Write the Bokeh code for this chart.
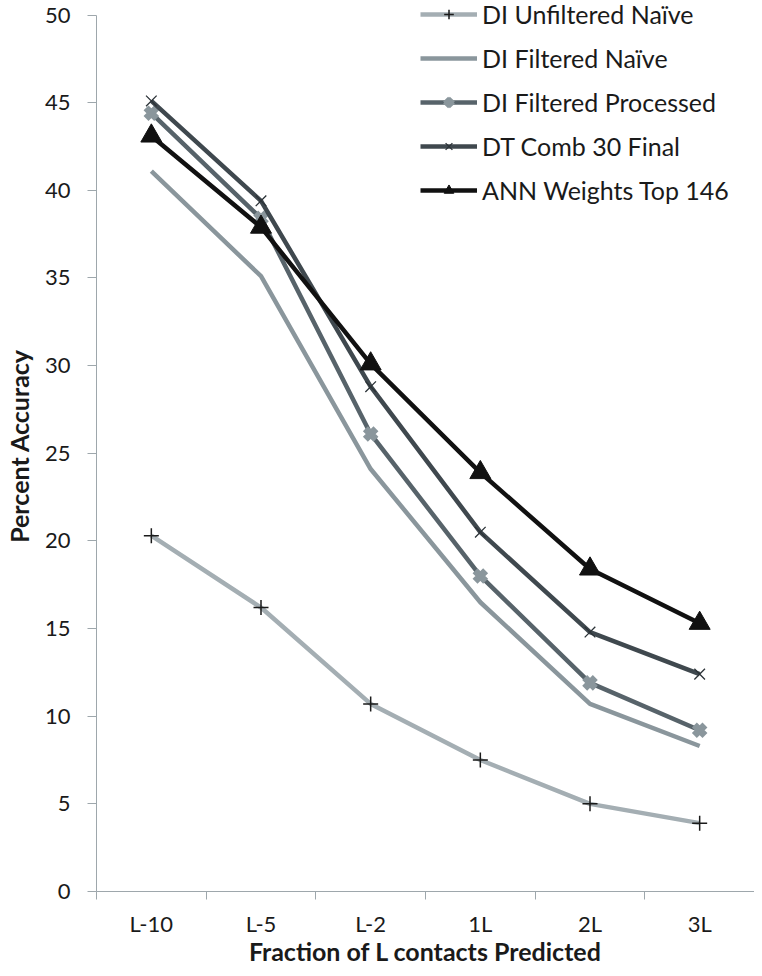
from bokeh.plotting import figure
from bokeh.models import FixedTicker, Legend, Range1d
from bokeh.embed import file_html
from bokeh.resources import INLINE

categories = ["L-10", "L-5", "L-2", "1L", "2L", "3L"]
di_unfiltered_naive = [20.3, 16.2, 10.7, 7.5, 5.0, 3.9]
di_filtered_naive = [41.1, 35.1, 24.1, 16.5, 10.7, 8.3]
di_filtered_processed = [44.4, 38.4, 26.1, 18.0, 11.9, 9.2]
dt_comb_30_final = [45.1, 39.4, 28.8, 20.5, 14.8, 12.4]
ann_weights_top_146 = [43.1, 37.9, 30.1, 23.9, 18.4, 15.3]
y_ticks = [0, 5, 10, 15, 20, 25, 30, 35, 40, 45, 50]

FONT = "Lato"
xs = [i + 0.5 for i in range(len(categories))]

# frame starts at the very top of the canvas; the axis itself stops at 50
y_top = 50 * (1 + 14.5 / 875.5)

p = figure(width=754, height=968, output_backend="svg", toolbar_location=None,
           x_range=Range1d(0, len(categories)), y_range=Range1d(0, y_top),
           min_border_left=92, min_border_right=0, min_border_top=0, min_border_bottom=77)
p.outline_line_color = None
p.xgrid.visible = False
p.ygrid.visible = False
p.background_fill_color = "white"

# x axis: labels at category centers, tick marks at boundaries
p.xaxis.ticker = FixedTicker(ticks=xs, minor_ticks=list(range(len(categories) + 1)))
p.xaxis.major_label_overrides = {x: c for x, c in zip(xs, categories)}
p.xaxis.major_tick_out = 0
p.xaxis.major_tick_in = 0
p.xaxis.minor_tick_out = 8
p.xaxis.minor_tick_in = 0
p.xaxis.major_label_standoff = 10
p.xaxis.axis_label = "Fraction of L contacts Predicted"
p.xaxis.axis_label_standoff = -4

p.yaxis.ticker = FixedTicker(ticks=y_ticks, minor_ticks=[])
p.yaxis.bounds = (0, 50)
p.yaxis.major_tick_out = 9
p.yaxis.major_tick_in = 0
p.yaxis.major_label_standoff = 17
p.yaxis.axis_label = "Percent Accuracy"
p.yaxis.axis_label_standoff = 8

for ax in (p.xaxis[0], p.yaxis[0]):
    ax.axis_line_color = "#9ea7ac"
    ax.major_tick_line_color = "#9ea7ac"
    ax.minor_tick_line_color = "#9ea7ac"
    ax.major_label_text_font = FONT
    ax.major_label_text_font_size = "22px"
    ax.major_label_text_color = "#1a1a1a"
    ax.axis_label_text_font = FONT
    ax.axis_label_text_font_size = "25px"
    ax.axis_label_text_font_style = "bold"
    ax.axis_label_text_color = "#1a1a1a"

items = []

r1 = p.line(xs, di_unfiltered_naive, line_color="#a4aeb3", line_width=4.5)
m1 = p.scatter(xs, di_unfiltered_naive, marker="cross", size=15, line_color="#1a1a1a", line_width=1.5)
items.append(("DI Unfiltered Naïve", [r1, m1]))

r2 = p.line(xs, di_filtered_naive, line_color="#8a969c", line_width=4.5)
items.append(("DI Filtered Naïve", [r2]))

r3 = p.line(xs, di_filtered_processed, line_color="#57636a", line_width=4.5)
m3 = p.scatter(xs, di_filtered_processed, marker="x", size=15, line_color="#8a969c", line_width=7)
items.append(("DI Filtered Processed", [r3, m3]))

r4 = p.line(xs, dt_comb_30_final, line_color="#3f484e", line_width=4.5)
m4 = p.scatter(xs, dt_comb_30_final, marker="x", size=15, line_color="#2b3237", line_width=1.3)
items.append(("DT Comb 30 Final", [r4, m4]))

r5 = p.line(xs, ann_weights_top_146, line_color="#111111", line_width=4.5)
m5 = p.scatter(xs, ann_weights_top_146, marker="triangle", size=21, fill_color="#111111",
               line_color="#111111")
items.append(("ANN Weights Top 146", [r5, m5]))

legend = Legend(items=items, location=(324, 686), orientation="vertical",
                glyph_width=57, glyph_height=24, label_height=24, label_standoff=5,
                spacing=14, padding=0, margin=0,
                border_line_color=None, background_fill_alpha=0,
                label_text_font=FONT, label_text_font_size="25px", label_text_color="#1a1a1a")
p.add_layout(legend, "center")

open("out.html", "w").write(file_html(p, INLINE))
